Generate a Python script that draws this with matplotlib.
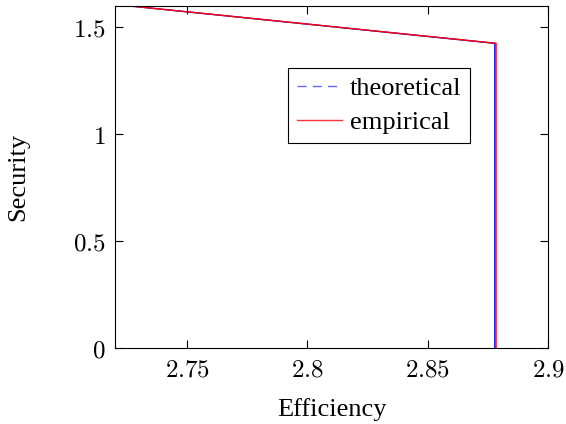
import matplotlib
matplotlib.use("Agg")
import matplotlib.pyplot as plt
from matplotlib.lines import Line2D

# Data
theo_x = [2.726, 2.8779, 2.8779]
theo_y = [1.600, 1.425, 0.0]
emp_x = [2.726, 2.8784, 2.8784]
emp_y = [1.600, 1.425, 0.0]

xticks = [2.75, 2.8, 2.85, 2.9]
xticklabels = ["2.75", "2.8", "2.85", "2.9"]
yticks = [0, 0.5, 1, 1.5]
yticklabels = ["0", "0.5", "1", "1.5"]

plt.rcParams["mathtext.fontset"] = "cm"
serif = "Liberation Serif"

fig = plt.figure(figsize=(5.66, 4.24), dpi=100)
ax = fig.add_axes([0.2032, 0.180, 0.7650, 0.806])

ax.plot(theo_x, theo_y, color="#0000ff", lw=1.0, solid_joinstyle="miter")
ax.plot(emp_x, emp_y, color="#ff0000", lw=1.0, solid_joinstyle="miter")

ax.set_xlim(2.72, 2.9)
ax.set_ylim(0, 1.6)
ax.set_xticks(xticks)
ax.set_xticklabels(["$%s$" % t for t in xticklabels], fontsize=18)
ax.set_yticks(yticks)
ax.set_yticklabels(["$%s$" % t for t in yticklabels], fontsize=18)
ax.tick_params(direction="in", length=6, width=0.8, top=True, right=True, pad=7)
for s in ax.spines.values():
    s.set_linewidth(0.8)

ax.set_xlabel("Efficiency", fontsize=19, family=serif, labelpad=12)
ax.set_ylabel("Security", fontsize=19, family=serif, labelpad=31)

handles = [
    Line2D([], [], color="#6666ff", lw=1.0, linestyle=(0, (6.5, 4.5))),
    Line2D([], [], color="#ff3333", lw=1.0),
]
leg = ax.legend(handles, ["theoretical", "empirical"], loc="upper left",
                bbox_to_anchor=(0.40, 0.818), frameon=True, fancybox=False,
                edgecolor="black", framealpha=1, borderaxespad=0,
                prop={"family": serif, "size": 19}, handlelength=1.7,
                handletextpad=0.3, borderpad=0.33, labelspacing=0.4)
leg.get_frame().set_linewidth(0.8)

fig.savefig("out.png", dpi=100)
